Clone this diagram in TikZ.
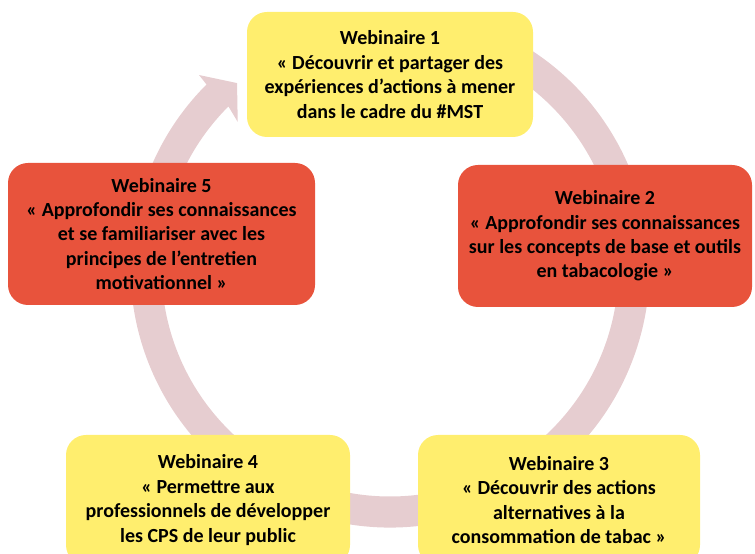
\documentclass[tikz,border=0pt]{standalone}
\usepackage{xcolor}
\usepackage{fontspec}
\setmainfont{Carlito}
\usetikzlibrary{calc}
\definecolor{jaune}{HTML}{FFEE6E}
\definecolor{rouge}{HTML}{E8533C}
\definecolor{rose}{HTML}{E6CDD0}
\tikzstyle{webjaune} = [rectangle, rounded corners=20pt, align=center, inner sep=0pt, fill=jaune, font=\bfseries\fontsize{20}{24.4}\selectfont]
\tikzstyle{webrouge} = [webjaune, fill=rouge]

\begin{document}
\begin{tikzpicture}[x=1pt, y=1pt]
\useasboundingbox (0,0) rectangle (755,554);
\coordinate (ring) at (390,286);
% fleche circulaire
\fill[rose] ($(ring)+(70:259.5)$) arc[start angle=70, end angle=-225, radius=259.5]
  -- ($(ring)+(134.7:271.5)$) -- ($(ring)+(129.6:240)$) -- ($(ring)+(136.2:211)$)
  -- ($(ring)+(135:228.5)$) arc[start angle=135, end angle=430, radius=228.5] -- cycle;

\node (web1) [webjaune, minimum width=286pt, minimum height=125pt] at (390,479.5) {Webinaire 1\\« Découvrir et partager des\\expériences d’actions à mener\\dans le cadre du \#MST};
\node (web2) [webrouge, minimum width=294pt, minimum height=142pt] at (605,318) {Webinaire 2\\« Approfondir ses connaissances\\sur les concepts de base et outils\\en tabacologie »};
\node (web3) [webjaune, minimum width=282pt, minimum height=130pt] at (559,54) {Webinaire 3\\« Découvrir des actions\\alternatives à la\\consommation de tabac »};
\node (web4) [webjaune, minimum width=284pt, minimum height=130pt] at (208,54) {Webinaire 4\\« Permettre aux\\professionnels de développer\\les CPS de leur public};
\node (web5) [webrouge, minimum width=307pt, minimum height=142pt] at (161.5,320) {Webinaire 5\\« Approfondir ses connaissances\\et se familiariser avec les\\principes de l’entretien\\motivationnel »};
\end{tikzpicture}
\end{document}
